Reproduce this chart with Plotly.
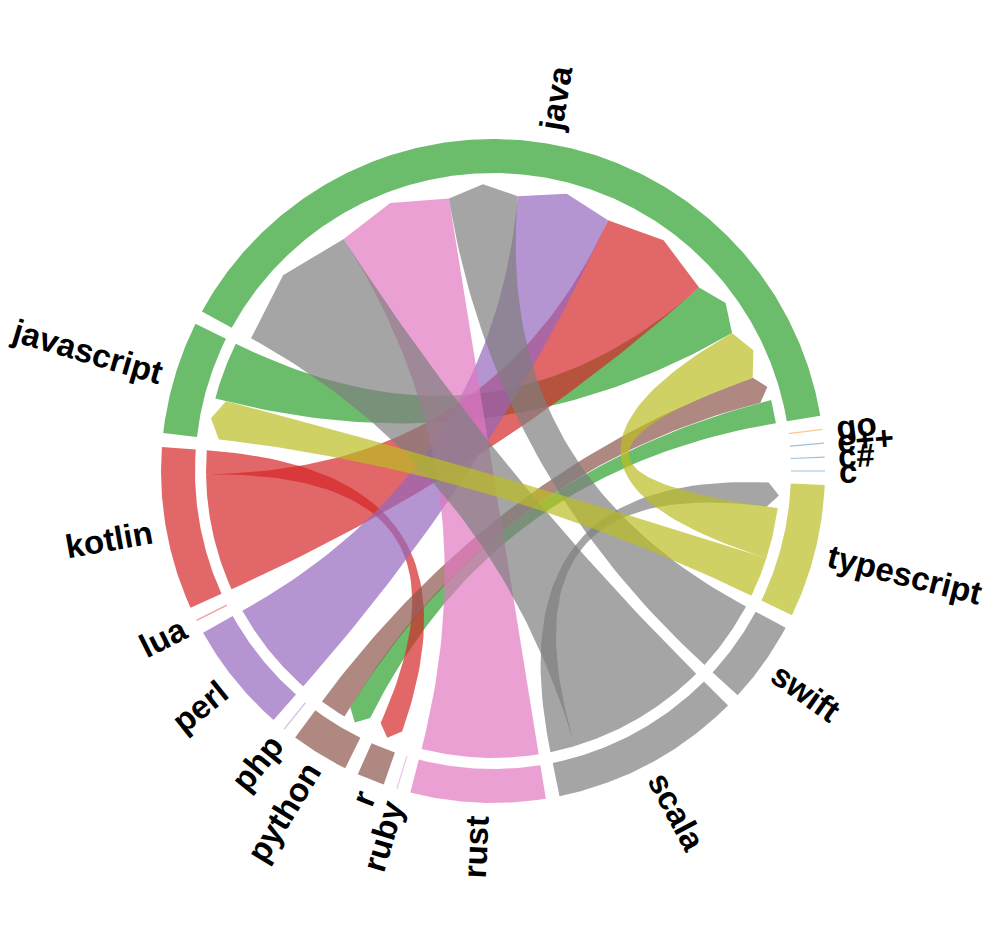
import numpy as np
import plotly.graph_objects as go

# ---------------- data ----------------
names = ["c", "c#", "c++", "go", "java", "javascript", "kotlin", "lua", "perl",
         "php", "python", "r", "ruby", "rust", "scala", "swift", "typescript"]
node_colors = ["#1f77b4", "#1f77b4", "#1f77b4", "#ff7f0e", "#2ca02c", "#2ca02c",
               "#d62728", "#d62728", "#9467bd", "#9467bd", "#8c564b", "#8c564b",
               "#e377c2", "#e377c2", "#7f7f7f", "#7f7f7f", "#bcbd22"]

# directed links (source -> target), in layout order
sources = ["java", "python", "typescript", "typescript", "javascript", "kotlin",
           "kotlin", "perl", "swift", "rust", "scala", "scala"]
targets = ["python", "java", "javascript", "java", "java", "r",
           "java", "java", "java", "java", "typescript", "java"]
values = [46, 53, 79, 100, 114, 47, 231, 190, 140, 230, 49, 278]

# ---------------- layout parameters ----------------
PAD = 2.4            # degrees between nodes
R_IN, R_OUT = 1.0, 1.114
R_CH, R_AR = 0.963, 0.926
PX = 298.0           # pixels per unit
CX, CY = 485.0, 463.0
W, H = 996, 943
ALPHA = 0.7
FONT_SIZE = 33


def rgba(hexc, a):
    hexc = hexc.lstrip("#")
    r, g, b = int(hexc[0:2], 16), int(hexc[2:4], 16), int(hexc[4:6], 16)
    return f"rgba({r},{g},{b},{a})"


def pt(theta, r):
    t = np.deg2rad(theta)
    return r * np.cos(t), r * np.sin(t)


def arc(r, a, b):
    n = max(3, int(abs(b - a) * 2) + 2)
    th = np.deg2rad(np.linspace(a, b, n))
    return list(r * np.cos(th)), list(r * np.sin(th))


def bez(p0, p2, n=60):
    # quadratic bezier with control point at the centre
    t = np.linspace(0, 1, n)
    x = (1 - t) ** 2 * p0[0] + t ** 2 * p2[0]
    y = (1 - t) ** 2 * p0[1] + t ** 2 * p2[1]
    return list(x), list(y)


n = len(names)
idx = {nm: i for i, nm in enumerate(names)}
totals = np.zeros(n)
for s, t, v in zip(sources, targets, values):
    totals[idx[s]] += v
    totals[idx[t]] += v
k = (360.0 - PAD * n) / totals.sum()

# node spans and link sub-spans
node_span = []
src_span = [None] * len(values)
tgt_span = [None] * len(values)
cur = 0.0
for i, nm in enumerate(names):
    start = cur
    for e, (s, v) in enumerate(zip(sources, values)):
        if s == nm:
            src_span[e] = (cur, cur + v * k)
            cur += v * k
    for e, (t, v) in enumerate(zip(targets, values)):
        if t == nm:
            tgt_span[e] = (cur, cur + v * k)
            cur += v * k
    node_span.append((start, cur))
    cur += PAD

fig = go.Figure()

# ring arcs
for i, nm in enumerate(names):
    a, b = node_span[i]
    col = node_colors[i]
    if b - a < 1e-6:
        x0, y0 = pt(a, R_IN)
        x1, y1 = pt(a, R_OUT)
        fig.add_trace(go.Scatter(x=[x0, x1], y=[y0, y1], mode="lines",
                                 line=dict(color=rgba(col, 0.45), width=1.2),
                                 hoverinfo="skip", showlegend=False))
        continue
    xo, yo = arc(R_OUT, a, b)
    xi, yi = arc(R_IN, b, a)
    fig.add_trace(go.Scatter(x=xo + xi + [xo[0]], y=yo + yi + [yo[0]],
                             mode="lines", fill="toself",
                             fillcolor=rgba(col, ALPHA), line=dict(width=0),
                             hoverinfo="skip", showlegend=False))

# ribbons with arrow heads at target, drawn in source-node order
order = sorted(range(len(values)), key=lambda e: (idx[sources[e]], e))
for e in order:
    s = sources[e]
    a1, a2 = src_span[e]
    b1, b2 = tgt_span[e]
    xs, ys = arc(R_CH, a1, a2)
    bx, by = bez(pt(a2, R_CH), pt(b1, R_AR))
    tipx, tipy = pt((b1 + b2) / 2, R_CH)
    cx2, cy2 = pt(b2, R_AR)
    rx, ry = bez(pt(b2, R_AR), pt(a1, R_CH))
    X = xs + bx + [tipx, cx2] + rx
    Y = ys + by + [tipy, cy2] + ry
    fig.add_trace(go.Scatter(x=X, y=Y, mode="lines", fill="toself",
                             fillcolor=rgba(node_colors[idx[s]], ALPHA),
                             line=dict(width=0), hoverinfo="skip",
                             showlegend=False))

# labels
cw = {"a": 556, "b": 611, "c": 556, "e": 556, "f": 333, "g": 611, "h": 611,
      "i": 278, "j": 278, "k": 556, "l": 278, "n": 611, "o": 611, "p": 611,
      "r": 389, "s": 556, "t": 333, "u": 611, "v": 556, "w": 778, "y": 556,
      "#": 556, "+": 584}
R_LAB = 1.16
for i, nm in enumerate(names):
    a, b = node_span[i]
    th = (a + b) / 2
    wpx = sum(cw.get(ch, 556) for ch in nm) * FONT_SIZE / 1000.0
    rc = R_LAB + wpx / 2 / PX
    x, y = pt(th, rc)
    if 90 < th < 270:
        ang = -(th - 180)
    else:
        ang = -th
    ang = (ang + 180) % 360 - 180
    fig.add_annotation(x=x, y=y, text=nm, showarrow=False, textangle=ang,
                       xanchor="center", yanchor="middle",
                       font=dict(family="Liberation Sans, Arial", size=FONT_SIZE,
                                 color="black", weight="bold"))

fig.update_layout(
    width=W, height=H, margin=dict(l=0, r=0, t=0, b=0, pad=0),
    paper_bgcolor="white", plot_bgcolor="white", showlegend=False,
    xaxis=dict(range=[-CX / PX, (W - CX) / PX], visible=False, fixedrange=True),
    yaxis=dict(range=[-(H - CY) / PX, CY / PX], visible=False, fixedrange=True),
)
fig.write_html("out.html")
